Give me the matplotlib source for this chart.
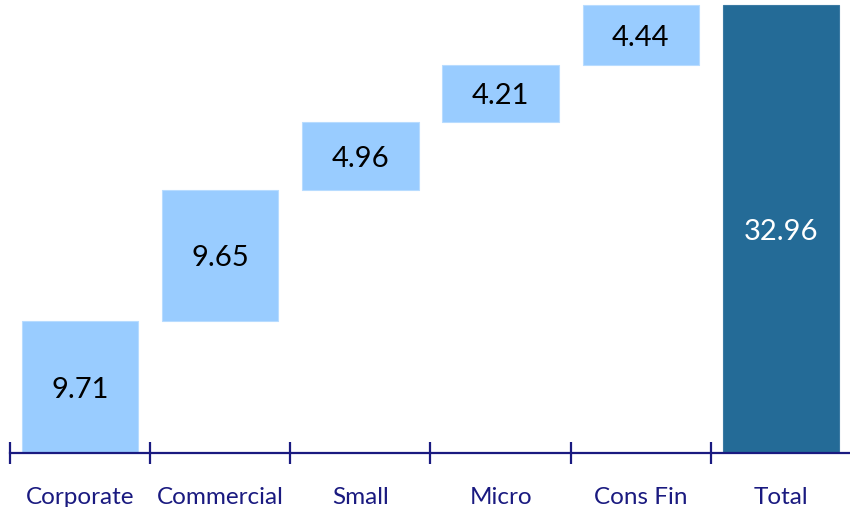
import matplotlib.pyplot as plt
import matplotlib.transforms as mtransforms
import numpy as np

plt.rcParams["font.family"] = ["Lato", "DejaVu Sans"]

categories = ["Corporate", "Commercial", "Small", "Micro", "Cons Fin", "Total"]
steps = [9.71, 9.65, 4.96, 4.21, 4.44]
total = 32.96

step_color = "#99CCFF"
total_color = "#246B97"
axis_color = "#1A1A80"


def waterfall():
    fig = plt.figure(figsize=(8.5, 5.07), dpi=100)
    ax = fig.add_axes([10 / 850, 54 / 507, 841 / 850, 453 / 507])

    x = np.arange(len(categories))
    bottoms = np.concatenate([[0], np.cumsum(steps)[:-1]])

    ax.bar(x[:-1], steps, bottom=bottoms, width=0.83,
           color=step_color, edgecolor="#B8DCFF", linewidth=0.8)
    ax.bar(x[-1], total, width=0.83, color=total_color,
           edgecolor="#3A7AA3", linewidth=0.8)

    for xi, b, v in zip(x[:-1], bottoms, steps):
        ax.text(xi, b + v / 2, f"{v:.2f}", ha="center", va="center_baseline",
                fontsize=21, color="black")
    ax.text(x[-1], total / 2, f"{total:.2f}", ha="center", va="center_baseline",
            fontsize=21, color="white")

    ax.set_xlim(-0.5, len(categories) - 0.5)
    ax.set_ylim(0, 453 / 13.59)

    for s in ["top", "right", "left"]:
        ax.spines[s].set_visible(False)
    ax.spines["bottom"].set_color(axis_color)
    ax.spines["bottom"].set_linewidth(1.6)
    ax.set_yticks([])

    ax.set_xticks(np.arange(len(categories)) - 0.5)
    ax.set_xticklabels([])
    ax.tick_params(axis="x", direction="inout", length=16, width=1.6,
                   color=axis_color)

    trans = mtransforms.blended_transform_factory(ax.transData, fig.transFigure)
    for xi, name in zip(x, categories):
        ax.text(xi, 1 - 496 / 507, name, ha="center", va="center_baseline",
                fontsize=17.5, color=axis_color, transform=trans, clip_on=False)

    fig.savefig("out.png", dpi=100)


if __name__ == "__main__":
    waterfall()
